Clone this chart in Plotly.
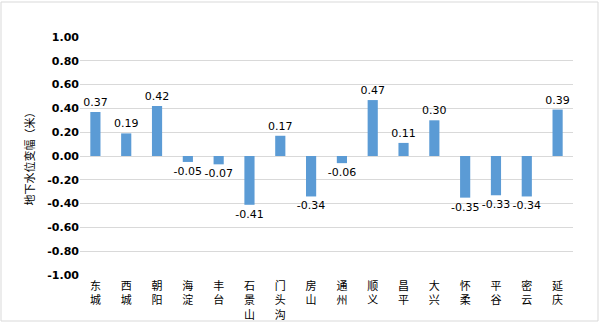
import plotly.graph_objects as go

districts = ["东城", "西城", "朝阳", "海淀", "丰台", "石景山", "门头沟", "房山",
             "通州", "顺义", "昌平", "大兴", "怀柔", "平谷", "密云", "延庆"]
changes = [0.37, 0.19, 0.42, -0.05, -0.07, -0.41, 0.17, -0.34,
           -0.06, 0.47, 0.11, 0.30, -0.35, -0.33, -0.34, 0.39]
y_ticks = [1.0, 0.8, 0.6, 0.4, 0.2, 0.0, -0.2, -0.4, -0.6, -0.8, -1.0]

tick_text = ["<br>".join(list(d)) for d in districts]

fig = go.Figure(go.Bar(
    x=districts, y=changes,
    marker=dict(color="#5B9BD5", line=dict(width=0)),
    text=[f"{v:.2f}" for v in changes],
    textposition="outside",
    constraintext="none",
    textfont=dict(family="DejaVu Sans", size=11, color="#000000"),
    cliponaxis=False,
))

fig.update_layout(
    width=600, height=323,
    margin=dict(l=80, r=27, t=37, b=48, autoexpand=False),
    paper_bgcolor="white", plot_bgcolor="white",
    bargap=0.67,
    showlegend=False,
    font=dict(family="Noto Sans CJK SC, DejaVu Sans", color="#000000"),
    shapes=[dict(type="rect", xref="paper", yref="paper",
                 x0=-79/493, x1=(493+25)/493, y0=-46/238, y1=(238+35)/238,
                 line=dict(color="#D9D9D9", width=1), fillcolor="rgba(0,0,0,0)")],
)
fig.update_xaxes(
    tickmode="array", tickvals=districts, ticktext=tick_text,
    tickfont=dict(family="Noto Sans CJK SC", size=11, color="#000000"),
    ticklabelstandoff=3,
    showgrid=False, showline=False, ticks="", zeroline=False, automargin=False,
)
fig.update_yaxes(
    range=[-1, 1], tickmode="array", tickvals=y_ticks,
    ticktext=[f"<b>{v:.2f}</b>" for v in y_ticks],
    tickfont=dict(family="DejaVu Sans", size=11, color="#000000"),
    showgrid=True, gridcolor="#D9D9D9", gridwidth=1,
    zeroline=True, zerolinecolor="#D9D9D9", zerolinewidth=1,
    showline=False, ticks="", ticklen=0, automargin=False,
    title=dict(text="地下水位变幅（米）", standoff=10,
               font=dict(family="Noto Sans CJK SC", size=11, color="#000000")),
)

fig.write_html("out.html")
